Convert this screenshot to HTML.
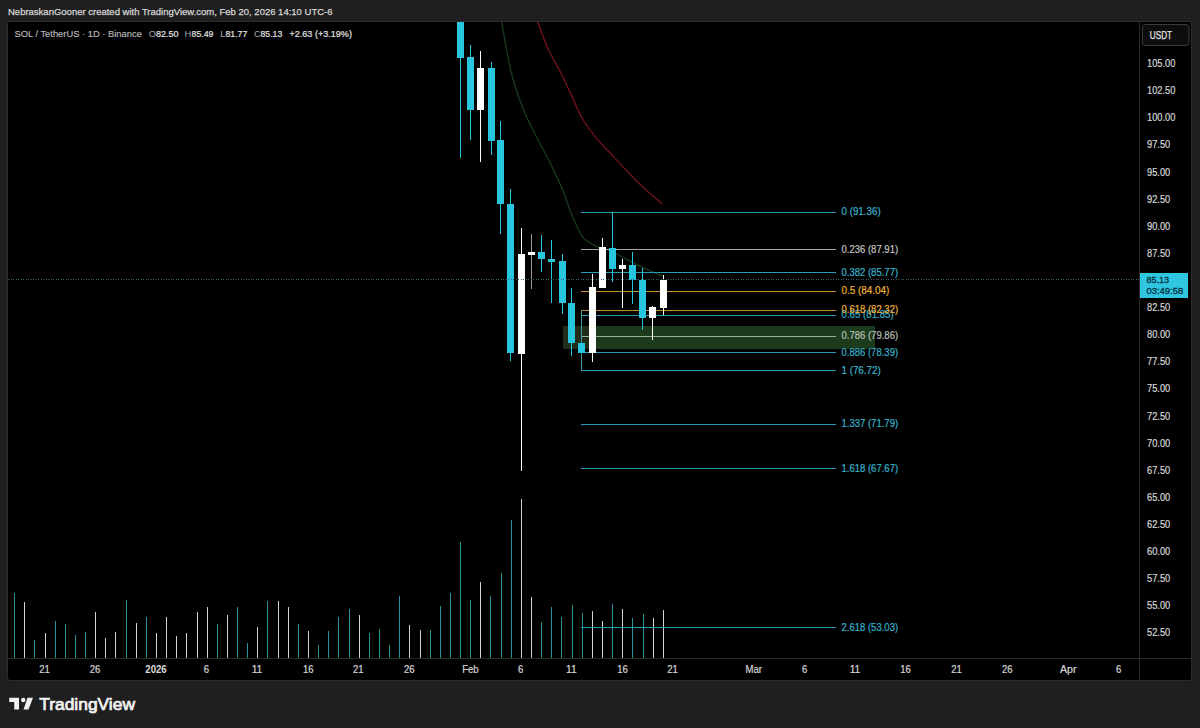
<!DOCTYPE html>
<html><head><meta charset="utf-8">
<style>
html,body{margin:0;padding:0;background:#1f1f1f;width:1200px;height:728px;overflow:hidden;}
svg{position:absolute;left:0;top:0;}
text{font-family:"Liberation Sans", sans-serif;}
</style></head>
<body>
<svg width="1200" height="728" viewBox="0 0 1200 728" shape-rendering="crispEdges">
<rect x="0" y="0" width="1200" height="728" fill="#1f1f1f"/>
<rect x="7" y="21" width="1185" height="660" rx="3" fill="#2c2c2c" shape-rendering="auto"/>
<rect x="8" y="22" width="1183" height="658" rx="2" fill="#000" shape-rendering="auto"/>
<text x="8" y="15" fill="#d6d6d6" font-size="9.5" textLength="324.5" lengthAdjust="spacingAndGlyphs" stroke="#d6d6d6" stroke-width="0.25">NebraskanGooner created with TradingView.com, Feb 20, 2026 14:10 UTC-6</text>
<svg x="8" y="22" width="1131" height="636" viewBox="8 22 1131 636" overflow="hidden">
<rect x="14" y="593.0" width="1" height="64.5" fill="#2a909c"/>
<rect x="24" y="601.6" width="1" height="55.9" fill="#d0d0d0"/>
<rect x="34" y="640.0" width="1" height="17.5" fill="#2a909c"/>
<rect x="45" y="633.0" width="1" height="24.5" fill="#d0d0d0"/>
<rect x="55" y="621.0" width="1" height="36.5" fill="#2a909c"/>
<rect x="65" y="624.0" width="1" height="33.5" fill="#2a909c"/>
<rect x="75" y="634.6" width="1" height="22.9" fill="#2a909c"/>
<rect x="85" y="632.0" width="1" height="25.5" fill="#2a909c"/>
<rect x="95" y="612.0" width="1" height="45.5" fill="#d0d0d0"/>
<rect x="105" y="638.4" width="1" height="19.1" fill="#d0d0d0"/>
<rect x="115" y="632.0" width="1" height="25.5" fill="#d0d0d0"/>
<rect x="126" y="599.6" width="1" height="57.9" fill="#2a909c"/>
<rect x="136" y="623.0" width="1" height="34.5" fill="#d0d0d0"/>
<rect x="146" y="617.4" width="1" height="40.1" fill="#2a909c"/>
<rect x="156" y="633.4" width="1" height="24.1" fill="#d0d0d0"/>
<rect x="166" y="617.4" width="1" height="40.1" fill="#d0d0d0"/>
<rect x="176" y="636.0" width="1" height="21.5" fill="#d0d0d0"/>
<rect x="186" y="633.0" width="1" height="24.5" fill="#d0d0d0"/>
<rect x="197" y="611.6" width="1" height="45.9" fill="#d0d0d0"/>
<rect x="207" y="606.6" width="1" height="50.9" fill="#d0d0d0"/>
<rect x="217" y="624.4" width="1" height="33.1" fill="#2a909c"/>
<rect x="227" y="615.4" width="1" height="42.1" fill="#d0d0d0"/>
<rect x="237" y="606.6" width="1" height="50.9" fill="#2a909c"/>
<rect x="247" y="643.3" width="1" height="14.2" fill="#2a909c"/>
<rect x="257" y="627.3" width="1" height="30.2" fill="#d0d0d0"/>
<rect x="267" y="600.5" width="1" height="57.0" fill="#2a909c"/>
<rect x="278" y="601.0" width="1" height="56.5" fill="#d0d0d0"/>
<rect x="288" y="607.1" width="1" height="50.4" fill="#d0d0d0"/>
<rect x="298" y="624.0" width="1" height="33.5" fill="#2a909c"/>
<rect x="308" y="631.3" width="1" height="26.2" fill="#d0d0d0"/>
<rect x="318" y="645.1" width="1" height="12.4" fill="#2a909c"/>
<rect x="328" y="631.0" width="1" height="26.5" fill="#2a909c"/>
<rect x="338" y="616.7" width="1" height="40.8" fill="#2a909c"/>
<rect x="349" y="609.0" width="1" height="48.5" fill="#2a909c"/>
<rect x="359" y="614.5" width="1" height="43.0" fill="#d0d0d0"/>
<rect x="369" y="632.8" width="1" height="24.7" fill="#2a909c"/>
<rect x="379" y="629.2" width="1" height="28.3" fill="#2a909c"/>
<rect x="389" y="645.1" width="1" height="12.4" fill="#2a909c"/>
<rect x="399" y="596.1" width="1" height="61.4" fill="#2a909c"/>
<rect x="409" y="624.6" width="1" height="32.9" fill="#d0d0d0"/>
<rect x="420" y="629.5" width="1" height="28.0" fill="#d0d0d0"/>
<rect x="430" y="629.5" width="1" height="28.0" fill="#2a909c"/>
<rect x="440" y="606.4" width="1" height="51.1" fill="#2a909c"/>
<rect x="450" y="592.7" width="1" height="64.8" fill="#2a909c"/>
<rect x="460" y="541.8" width="1" height="115.7" fill="#2a909c"/>
<rect x="470" y="600.2" width="1" height="57.3" fill="#2a909c"/>
<rect x="480" y="581.7" width="1" height="75.8" fill="#d0d0d0"/>
<rect x="490" y="595.7" width="1" height="61.8" fill="#2a909c"/>
<rect x="501" y="572.9" width="1" height="84.6" fill="#2a909c"/>
<rect x="511" y="519.6" width="1" height="137.9" fill="#2a909c"/>
<rect x="521" y="498.6" width="1" height="158.9" fill="#d0d0d0"/>
<rect x="531" y="596.9" width="1" height="60.6" fill="#d0d0d0"/>
<rect x="541" y="622.4" width="1" height="35.1" fill="#2a909c"/>
<rect x="551" y="607.2" width="1" height="50.3" fill="#2a909c"/>
<rect x="561" y="616.5" width="1" height="41.0" fill="#2a909c"/>
<rect x="572" y="605.0" width="1" height="52.5" fill="#2a909c"/>
<rect x="582" y="613.0" width="1" height="44.5" fill="#2a909c"/>
<rect x="592" y="610.9" width="1" height="46.6" fill="#d0d0d0"/>
<rect x="602" y="620.7" width="1" height="36.8" fill="#d0d0d0"/>
<rect x="612" y="603.7" width="1" height="53.8" fill="#2a909c"/>
<rect x="622" y="608.6" width="1" height="48.9" fill="#d0d0d0"/>
<rect x="632" y="618.4" width="1" height="39.1" fill="#2a909c"/>
<rect x="643" y="614.2" width="1" height="43.3" fill="#2a909c"/>
<rect x="653" y="617.9" width="1" height="39.6" fill="#d0d0d0"/>
<rect x="663" y="610.2" width="1" height="47.3" fill="#d0d0d0"/>
<path d="M533.50,12.00 C534.13,13.50 534.93,15.00 537.30,21.00 C539.67,27.00 543.68,39.17 547.70,48.00 C551.72,56.83 557.28,65.77 561.40,74.00 C565.52,82.23 568.97,90.07 572.40,97.40 C575.83,104.73 578.33,111.58 582.00,118.00 C585.67,124.42 589.58,129.95 594.40,135.90 C599.22,141.85 605.40,147.75 610.90,153.70 C616.40,159.65 621.92,165.88 627.40,171.60 C632.88,177.32 637.95,182.60 643.80,188.00 C649.65,193.40 659.38,201.33 662.50,204.00" fill="none" stroke="#6a121a" stroke-width="1.45" shape-rendering="auto"/>
<path d="M499.80,12.00 C500.08,13.50 499.70,11.33 501.50,21.00 C503.30,30.67 507.02,55.43 510.60,70.00 C514.18,84.57 518.65,97.18 523.00,108.40 C527.35,119.62 532.13,128.13 536.70,137.30 C541.27,146.47 545.82,154.02 550.40,163.40 C554.98,172.78 560.77,185.37 564.20,193.60 C567.63,201.83 568.05,205.73 571.00,212.80 C573.95,219.87 578.95,231.13 581.90,236.00 C584.85,240.87 586.18,240.22 588.70,242.00 C591.22,243.78 593.15,245.12 597.00,246.70 C600.85,248.28 605.10,248.47 611.80,251.50 C618.50,254.53 628.73,260.77 637.20,264.90 C645.67,269.03 658.37,274.40 662.60,276.30" fill="none" stroke="#183a1c" stroke-width="1.35" shape-rendering="auto"/>
<rect x="562.5" y="326" width="26" height="23" fill="#1e2c18"/>
<rect x="588.5" y="326" width="286.5" height="23" fill="#1c3a1c"/>
<rect x="581" y="211.5" width="254.5" height="1" fill="#2a9cb0"/>
<rect x="581" y="249.0" width="254.5" height="1" fill="#a8a8a8"/>
<rect x="581" y="272.0" width="254.5" height="1" fill="#2a9cb0"/>
<rect x="581" y="290.5" width="254.5" height="1" fill="#c0902e"/>
<rect x="581" y="309.5" width="254.5" height="1" fill="#c0902e"/>
<rect x="581" y="314.5" width="254.5" height="1" fill="#2a9cb0"/>
<rect x="581" y="335.8" width="254.5" height="1" fill="#98ac98"/>
<rect x="581" y="352.0" width="254.5" height="1" fill="#2a9cb0"/>
<rect x="581" y="370.0" width="254.5" height="1" fill="#2a9cb0"/>
<rect x="581" y="423.8" width="254.5" height="1" fill="#2a9cb0"/>
<rect x="581" y="468.3" width="254.5" height="1" fill="#2a9cb0"/>
<rect x="581" y="627.2" width="254.5" height="1" fill="#2a9cb0"/>
<rect x="460" y="21.0" width="1" height="136.5" fill="#28c5de"/>
<rect x="457" y="21.0" width="7" height="37.0" fill="#28c5de"/>
<rect x="470" y="45.0" width="1" height="95.0" fill="#28c5de"/>
<rect x="467" y="57.3" width="7" height="52.7" fill="#28c5de"/>
<rect x="480" y="51.0" width="1" height="110.7" fill="#ffffff"/>
<rect x="477" y="68.4" width="7" height="41.6" fill="#ffffff"/>
<rect x="491" y="62.3" width="1" height="92.2" fill="#28c5de"/>
<rect x="488" y="68.4" width="7" height="72.6" fill="#28c5de"/>
<rect x="500" y="120.5" width="1" height="113.7" fill="#28c5de"/>
<rect x="497" y="140.3" width="7" height="63.9" fill="#28c5de"/>
<rect x="510" y="189.0" width="1" height="171.8" fill="#28c5de"/>
<rect x="507" y="203.5" width="7" height="149.7" fill="#28c5de"/>
<rect x="521" y="228.2" width="1" height="242.6" fill="#ffffff"/>
<rect x="518" y="253.9" width="7" height="99.6" fill="#ffffff"/>
<rect x="531" y="234.4" width="1" height="54.9" fill="#9a9a9a"/>
<rect x="528" y="252.0" width="7" height="2.6" fill="#ffffff"/>
<rect x="541" y="235.3" width="1" height="36.8" fill="#28c5de"/>
<rect x="538" y="252.0" width="7" height="7.4" fill="#28c5de"/>
<rect x="551" y="240.1" width="1" height="63.3" fill="#28c5de"/>
<rect x="548" y="258.7" width="7" height="3.0" fill="#28c5de"/>
<rect x="562" y="253.5" width="1" height="60.2" fill="#28c5de"/>
<rect x="559" y="260.7" width="7" height="42.4" fill="#28c5de"/>
<rect x="571" y="287.6" width="1" height="67.9" fill="#28c5de"/>
<rect x="568" y="302.7" width="7" height="40.5" fill="#28c5de"/>
<rect x="581" y="311.0" width="1" height="59.2" fill="#3c98a0"/>
<rect x="578" y="342.5" width="7" height="10.0" fill="#28c5de"/>
<rect x="592" y="273.5" width="1" height="88.6" fill="#ffffff"/>
<rect x="589" y="287.2" width="7" height="65.3" fill="#ffffff"/>
<rect x="602" y="237.8" width="1" height="50.2" fill="#ffffff"/>
<rect x="599" y="247.4" width="7" height="40.6" fill="#ffffff"/>
<rect x="612" y="212.0" width="1" height="70.0" fill="#28c5de"/>
<rect x="609" y="247.8" width="7" height="20.9" fill="#28c5de"/>
<rect x="622" y="258.8" width="1" height="48.7" fill="#ffffff"/>
<rect x="619" y="265.2" width="7" height="3.8" fill="#ffffff"/>
<rect x="632" y="251.5" width="1" height="52.1" fill="#28c5de"/>
<rect x="629" y="265.2" width="7" height="14.5" fill="#28c5de"/>
<rect x="642" y="268.4" width="1" height="61.7" fill="#28c5de"/>
<rect x="639" y="279.7" width="7" height="37.9" fill="#28c5de"/>
<rect x="652" y="305.5" width="1" height="34.3" fill="#ffffff"/>
<rect x="649" y="306.8" width="7" height="10.8" fill="#ffffff"/>
<rect x="663" y="275.3" width="1" height="39.7" fill="#ffffff"/>
<rect x="660" y="279.7" width="7" height="27.8" fill="#ffffff"/>
<line x1="8" y1="279.5" x2="1139" y2="279.5" stroke="#3a6468" stroke-width="1" stroke-dasharray="1 1.5"/>
</svg>
<text x="841.5" y="215.0" fill="#38b2ca" font-size="10" textLength="39.2" lengthAdjust="spacingAndGlyphs" stroke="#38b2ca" stroke-width="0.2">0 (91.36)</text>
<text x="841.5" y="252.5" fill="#c4c4c4" font-size="10" textLength="56.6" lengthAdjust="spacingAndGlyphs" stroke="#c4c4c4" stroke-width="0.2">0.236 (87.91)</text>
<text x="841.5" y="275.5" fill="#38b2ca" font-size="10" textLength="56.6" lengthAdjust="spacingAndGlyphs" stroke="#38b2ca" stroke-width="0.2">0.382 (85.77)</text>
<text x="841.5" y="294.0" fill="#eeb23a" font-size="10" textLength="47.9" lengthAdjust="spacingAndGlyphs" stroke="#eeb23a" stroke-width="0.2">0.5 (84.04)</text>
<text x="841.5" y="318.0" fill="#38b2ca" font-size="10" textLength="52.2" lengthAdjust="spacingAndGlyphs" stroke="#38b2ca" stroke-width="0.2">0.65 (81.85)</text>
<text x="841.5" y="339.3" fill="#b8c0b8" font-size="10" textLength="56.6" lengthAdjust="spacingAndGlyphs" stroke="#b8c0b8" stroke-width="0.2">0.786 (79.86)</text>
<text x="841.5" y="355.5" fill="#38b2ca" font-size="10" textLength="56.6" lengthAdjust="spacingAndGlyphs" stroke="#38b2ca" stroke-width="0.2">0.886 (78.39)</text>
<text x="841.5" y="373.5" fill="#38b2ca" font-size="10" textLength="39.2" lengthAdjust="spacingAndGlyphs" stroke="#38b2ca" stroke-width="0.2">1 (76.72)</text>
<text x="841.5" y="427.3" fill="#38b2ca" font-size="10" textLength="56.6" lengthAdjust="spacingAndGlyphs" stroke="#38b2ca" stroke-width="0.2">1.337 (71.79)</text>
<text x="841.5" y="471.8" fill="#38b2ca" font-size="10" textLength="56.6" lengthAdjust="spacingAndGlyphs" stroke="#38b2ca" stroke-width="0.2">1.618 (67.67)</text>
<text x="841.5" y="630.7" fill="#38b2ca" font-size="10" textLength="56.6" lengthAdjust="spacingAndGlyphs" stroke="#38b2ca" stroke-width="0.2">2.618 (53.03)</text>
<text x="841.5" y="313.0" fill="#eeb23a" font-size="10" textLength="56.6" lengthAdjust="spacingAndGlyphs" stroke="#eeb23a" stroke-width="0.2">0.618 (82.32)</text>
<!-- legend -->
<text x="14.4" y="36.6" fill="#bababa" font-size="9.3" textLength="127.5" lengthAdjust="spacingAndGlyphs" stroke="#bababa" stroke-width="0.15">SOL / TetherUS · 1D · Binance</text>
<text x="148.8" y="36.6" fill="#a8a8a8" font-size="9.3">O</text><text x="156" y="36.6" fill="#e4e4e4" font-size="9.3" textLength="22.5" lengthAdjust="spacingAndGlyphs" stroke="#e4e4e4" stroke-width="0.2">82.50</text>
<text x="184.6" y="36.6" fill="#a8a8a8" font-size="9.3">H</text><text x="191.6" y="36.6" fill="#e4e4e4" font-size="9.3" textLength="21.8" lengthAdjust="spacingAndGlyphs" stroke="#e4e4e4" stroke-width="0.2">85.49</text>
<text x="220.2" y="36.6" fill="#a8a8a8" font-size="9.3">L</text><text x="225.5" y="36.6" fill="#e4e4e4" font-size="9.3" textLength="21.8" lengthAdjust="spacingAndGlyphs" stroke="#e4e4e4" stroke-width="0.2">81.77</text>
<text x="254.1" y="36.6" fill="#a8a8a8" font-size="9.3">C</text><text x="260.5" y="36.6" fill="#e4e4e4" font-size="9.3" textLength="21.7" lengthAdjust="spacingAndGlyphs" stroke="#e4e4e4" stroke-width="0.2">85.13</text>
<text x="289.5" y="36.6" fill="#e4e4e4" font-size="9.3" textLength="62.4" lengthAdjust="spacingAndGlyphs" stroke="#e4e4e4" stroke-width="0.2">+2.63 (+3.19%)</text>
<!-- axes borders -->
<rect x="1139" y="22" width="1" height="658" fill="#2a2a2a"/>
<rect x="8" y="658" width="1183" height="1" fill="#2a2a2a"/>
<!-- USDT -->
<rect x="1142.5" y="24.5" width="46.5" height="21" rx="3" fill="#0d0d0d" stroke="#3c3c3c" stroke-width="1" shape-rendering="auto"/>
<text x="1149.8" y="39.2" fill="#e4e4e4" font-size="10.2" textLength="22.3" lengthAdjust="spacingAndGlyphs" stroke="#e4e4e4" stroke-width="0.25">USDT</text>
<text x="1147" y="67.1" fill="#d6d6d6" font-size="10.2" textLength="28.3" lengthAdjust="spacingAndGlyphs" stroke="#d6d6d6" stroke-width="0.2">105.00</text>
<text x="1147" y="94.2" fill="#d6d6d6" font-size="10.2" textLength="28.3" lengthAdjust="spacingAndGlyphs" stroke="#d6d6d6" stroke-width="0.2">102.50</text>
<text x="1147" y="121.3" fill="#d6d6d6" font-size="10.2" textLength="28.3" lengthAdjust="spacingAndGlyphs" stroke="#d6d6d6" stroke-width="0.2">100.00</text>
<text x="1147" y="148.4" fill="#d6d6d6" font-size="10.2" textLength="23.3" lengthAdjust="spacingAndGlyphs" stroke="#d6d6d6" stroke-width="0.2">97.50</text>
<text x="1147" y="175.5" fill="#d6d6d6" font-size="10.2" textLength="23.3" lengthAdjust="spacingAndGlyphs" stroke="#d6d6d6" stroke-width="0.2">95.00</text>
<text x="1147" y="202.6" fill="#d6d6d6" font-size="10.2" textLength="23.3" lengthAdjust="spacingAndGlyphs" stroke="#d6d6d6" stroke-width="0.2">92.50</text>
<text x="1147" y="229.7" fill="#d6d6d6" font-size="10.2" textLength="23.3" lengthAdjust="spacingAndGlyphs" stroke="#d6d6d6" stroke-width="0.2">90.00</text>
<text x="1147" y="256.8" fill="#d6d6d6" font-size="10.2" textLength="23.3" lengthAdjust="spacingAndGlyphs" stroke="#d6d6d6" stroke-width="0.2">87.50</text>
<text x="1147" y="311.0" fill="#d6d6d6" font-size="10.2" textLength="23.3" lengthAdjust="spacingAndGlyphs" stroke="#d6d6d6" stroke-width="0.2">82.50</text>
<text x="1147" y="338.2" fill="#d6d6d6" font-size="10.2" textLength="23.3" lengthAdjust="spacingAndGlyphs" stroke="#d6d6d6" stroke-width="0.2">80.00</text>
<text x="1147" y="365.3" fill="#d6d6d6" font-size="10.2" textLength="23.3" lengthAdjust="spacingAndGlyphs" stroke="#d6d6d6" stroke-width="0.2">77.50</text>
<text x="1147" y="392.4" fill="#d6d6d6" font-size="10.2" textLength="23.3" lengthAdjust="spacingAndGlyphs" stroke="#d6d6d6" stroke-width="0.2">75.00</text>
<text x="1147" y="419.5" fill="#d6d6d6" font-size="10.2" textLength="23.3" lengthAdjust="spacingAndGlyphs" stroke="#d6d6d6" stroke-width="0.2">72.50</text>
<text x="1147" y="446.6" fill="#d6d6d6" font-size="10.2" textLength="23.3" lengthAdjust="spacingAndGlyphs" stroke="#d6d6d6" stroke-width="0.2">70.00</text>
<text x="1147" y="473.7" fill="#d6d6d6" font-size="10.2" textLength="23.3" lengthAdjust="spacingAndGlyphs" stroke="#d6d6d6" stroke-width="0.2">67.50</text>
<text x="1147" y="500.8" fill="#d6d6d6" font-size="10.2" textLength="23.3" lengthAdjust="spacingAndGlyphs" stroke="#d6d6d6" stroke-width="0.2">65.00</text>
<text x="1147" y="527.9" fill="#d6d6d6" font-size="10.2" textLength="23.3" lengthAdjust="spacingAndGlyphs" stroke="#d6d6d6" stroke-width="0.2">62.50</text>
<text x="1147" y="555.0" fill="#d6d6d6" font-size="10.2" textLength="23.3" lengthAdjust="spacingAndGlyphs" stroke="#d6d6d6" stroke-width="0.2">60.00</text>
<text x="1147" y="582.1" fill="#d6d6d6" font-size="10.2" textLength="23.3" lengthAdjust="spacingAndGlyphs" stroke="#d6d6d6" stroke-width="0.2">57.50</text>
<text x="1147" y="609.2" fill="#d6d6d6" font-size="10.2" textLength="23.3" lengthAdjust="spacingAndGlyphs" stroke="#d6d6d6" stroke-width="0.2">55.00</text>
<text x="1147" y="636.3" fill="#d6d6d6" font-size="10.2" textLength="23.3" lengthAdjust="spacingAndGlyphs" stroke="#d6d6d6" stroke-width="0.2">52.50</text>
<!-- price label -->
<rect x="1140" y="273" width="48" height="25" fill="#2ec6e0"/>
<text x="1146.4" y="282.8" fill="#08303e" font-size="9.8" textLength="22.7" lengthAdjust="spacingAndGlyphs" stroke="#08303e" stroke-width="0.3">85.13</text>
<text x="1146.4" y="294.4" fill="#08303e" font-size="9.8" textLength="36.8" lengthAdjust="spacingAndGlyphs" stroke="#08303e" stroke-width="0.3">03:49:58</text>
<text x="39.2" y="672.7" fill="#d6d6d6" font-size="10" textLength="10.6" lengthAdjust="spacingAndGlyphs" stroke="#d6d6d6" stroke-width="0.2">21</text>
<text x="89.7" y="672.7" fill="#d6d6d6" font-size="10" textLength="10.6" lengthAdjust="spacingAndGlyphs" stroke="#d6d6d6" stroke-width="0.2">26</text>
<text x="145.3" y="672.7" fill="#dcdcdc" font-size="10" font-weight="bold" textLength="21.4" lengthAdjust="spacingAndGlyphs">2026</text>
<text x="203.8" y="672.7" fill="#d6d6d6" font-size="10" textLength="5.3" lengthAdjust="spacingAndGlyphs" stroke="#d6d6d6" stroke-width="0.2">6</text>
<text x="251.7" y="672.7" fill="#d6d6d6" font-size="10" textLength="10.6" lengthAdjust="spacingAndGlyphs" stroke="#d6d6d6" stroke-width="0.2">11</text>
<text x="303.0" y="672.7" fill="#d6d6d6" font-size="10" textLength="10.6" lengthAdjust="spacingAndGlyphs" stroke="#d6d6d6" stroke-width="0.2">16</text>
<text x="353.0" y="672.7" fill="#d6d6d6" font-size="10" textLength="10.6" lengthAdjust="spacingAndGlyphs" stroke="#d6d6d6" stroke-width="0.2">21</text>
<text x="404.0" y="672.7" fill="#d6d6d6" font-size="10" textLength="10.6" lengthAdjust="spacingAndGlyphs" stroke="#d6d6d6" stroke-width="0.2">26</text>
<text x="462.2" y="672.7" fill="#d6d6d6" font-size="10" textLength="16.5" lengthAdjust="spacingAndGlyphs" stroke="#d6d6d6" stroke-width="0.2">Feb</text>
<text x="517.9" y="672.7" fill="#d6d6d6" font-size="10" textLength="5.3" lengthAdjust="spacingAndGlyphs" stroke="#d6d6d6" stroke-width="0.2">6</text>
<text x="566.0" y="672.7" fill="#d6d6d6" font-size="10" textLength="10.6" lengthAdjust="spacingAndGlyphs" stroke="#d6d6d6" stroke-width="0.2">11</text>
<text x="617.2" y="672.7" fill="#d6d6d6" font-size="10" textLength="10.6" lengthAdjust="spacingAndGlyphs" stroke="#d6d6d6" stroke-width="0.2">16</text>
<text x="667.2" y="672.7" fill="#d6d6d6" font-size="10" textLength="10.6" lengthAdjust="spacingAndGlyphs" stroke="#d6d6d6" stroke-width="0.2">21</text>
<text x="745.5" y="672.7" fill="#d6d6d6" font-size="10" textLength="16.5" lengthAdjust="spacingAndGlyphs" stroke="#d6d6d6" stroke-width="0.2">Mar</text>
<text x="801.9" y="672.7" fill="#d6d6d6" font-size="10" textLength="5.3" lengthAdjust="spacingAndGlyphs" stroke="#d6d6d6" stroke-width="0.2">6</text>
<text x="849.7" y="672.7" fill="#d6d6d6" font-size="10" textLength="10.6" lengthAdjust="spacingAndGlyphs" stroke="#d6d6d6" stroke-width="0.2">11</text>
<text x="900.2" y="672.7" fill="#d6d6d6" font-size="10" textLength="10.6" lengthAdjust="spacingAndGlyphs" stroke="#d6d6d6" stroke-width="0.2">16</text>
<text x="951.2" y="672.7" fill="#d6d6d6" font-size="10" textLength="10.6" lengthAdjust="spacingAndGlyphs" stroke="#d6d6d6" stroke-width="0.2">21</text>
<text x="1001.9" y="672.7" fill="#d6d6d6" font-size="10" textLength="10.6" lengthAdjust="spacingAndGlyphs" stroke="#d6d6d6" stroke-width="0.2">26</text>
<text x="1060.0" y="672.7" fill="#d6d6d6" font-size="10" textLength="16.5" lengthAdjust="spacingAndGlyphs" stroke="#d6d6d6" stroke-width="0.2">Apr</text>
<text x="1116.0" y="672.7" fill="#d6d6d6" font-size="10" textLength="5.3" lengthAdjust="spacingAndGlyphs" stroke="#d6d6d6" stroke-width="0.2">6</text>
<!-- logo -->
<text x="39.2" y="709.5" fill="#f2f2f2" font-size="16.2" textLength="95.8" lengthAdjust="spacingAndGlyphs" stroke="#f2f2f2" stroke-width="0.7">TradingView</text>
<g fill="#f2f2f2" shape-rendering="auto">
<path d="M9.25,697.75 H19 V709.5 H14.25 V702 H9.25 Z"/>
<circle cx="23.25" cy="700" r="2.2"/>
<path d="M27.5,697.75 H33 L28.5,709.5 H23.5 Z"/>
</g>
</svg>
</body></html>
